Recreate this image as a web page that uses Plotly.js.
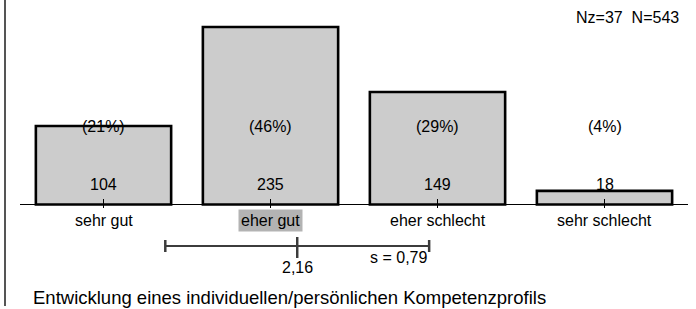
<!DOCTYPE html>
<html>
<head>
<meta charset="utf-8">
<script src="https://cdn.plot.ly/plotly-3.0.1.min.js"></script>
<style>
html,body{margin:0;padding:0;background:#fff;}
#chart{width:696px;height:309px;}
</style>
</head>
<body>
<div id="chart"></div>
<script>
// ---- data ----
const categories = ["sehr gut", "eher gut", "eher schlecht", "sehr schlecht"];
const counts = [104, 235, 149, 18];
const percents = ["(21%)", "(46%)", "(29%)", "(4%)"];
const meanValue = 2.16;
const sdValue = 0.79;
const meanLabel = "2,16";
const sdLabel = "s = 0,79";
const highlightIndex = 1;
const nzText = "Nz=37  N=543";
const titleText = "Entwicklung eines individuellen/persönlichen Kompetenzprofils";

// ---- layout helpers ----
const W = 696, H = 309;
const pxPerUnit = 167;            // horizontal pixels per category step
const firstCenterPx = 103.5;
const x0 = 1 - firstCenterPx / pxPerUnit;
const x1 = x0 + W / pxPerUnit;
const basePx = 204.5;
const yScale = 0.755;             // px per count
const yTop = basePx / yScale;
const yBottom = -(H - basePx) / yScale;
const P = px => 1 - px / H;        // pixel row -> paper y
const X = px => px / W;            // pixel col -> paper x

const xs = categories.map((c, i) => i + 1);
const font = "Liberation Sans, Arial, sans-serif";

const trace = {
  type: "bar",
  x: xs,
  y: counts,
  width: 0.81,
  marker: {color: "#cccccc", line: {color: "#000000", width: 2.6}},
  hoverinfo: "none"
};

const shapes = [];
// left vertical rule
shapes.push({type: "line", xref: "paper", yref: "paper", x0: X(5), x1: X(5), y0: P(0), y1: P(306),
  line: {color: "#555555", width: 2}});
// baseline
shapes.push({type: "line", xref: "x", yref: "y", x0: 0.5, x1: xs.length + 0.5, y0: 0, y1: 0,
  line: {color: "#000000", width: 1}});
// category ticks
xs.forEach(x => shapes.push({type: "line", xref: "x", yref: "paper", x0: x, x1: x, y0: P(199), y1: P(208),
  line: {color: "#000000", width: 1}}));
// mean +/- sd bar
const lo = meanValue - sdValue, hi = meanValue + sdValue;
const sdColor = "#3c3c3c";
shapes.push({type: "line", xref: "x", yref: "paper", x0: lo, x1: hi, y0: P(246), y1: P(246),
  line: {color: sdColor, width: 2}});
shapes.push({type: "line", xref: "x", yref: "paper", x0: lo, x1: lo, y0: P(240), y1: P(252),
  line: {color: sdColor, width: 2.5}});
shapes.push({type: "line", xref: "x", yref: "paper", x0: hi, x1: hi, y0: P(240), y1: P(252),
  line: {color: sdColor, width: 2.5}});
shapes.push({type: "line", xref: "x", yref: "paper", x0: meanValue, x1: meanValue, y0: P(237), y1: P(258),
  line: {color: sdColor, width: 2.5}});

const annotations = [];
const fs = 16;
xs.forEach((x, i) => {
  annotations.push({x: x, xref: "x", y: P(126), yref: "paper", text: percents[i], showarrow: false,
    font: {family: font, size: fs, color: "#000"}, xanchor: "center", yanchor: "middle"});
  annotations.push({x: x, xref: "x", y: P(184.5), yref: "paper", text: String(counts[i]), showarrow: false,
    font: {family: font, size: fs, color: "#000"}, xanchor: "center", yanchor: "middle"});
  const a = {x: x, xref: "x", y: P(220.5), yref: "paper", text: categories[i], showarrow: false,
    font: {family: font, size: fs, color: "#000"}, xanchor: "center", yanchor: "middle"};
  if (i === highlightIndex) { a.bgcolor = "#b3b3b3"; a.borderpad = 2; }
  annotations.push(a);
});
annotations.push({x: meanValue, xref: "x", y: P(267), yref: "paper", text: meanLabel, showarrow: false,
  font: {family: font, size: fs, color: "#000"}, xanchor: "center", yanchor: "middle"});
annotations.push({x: hi, xref: "x", y: P(257), yref: "paper", text: sdLabel, showarrow: false,
  font: {family: font, size: fs, color: "#000"}, xanchor: "right", yanchor: "middle"});
annotations.push({x: X(681), xref: "paper", y: P(18), yref: "paper", text: nzText, showarrow: false,
  font: {family: font, size: fs, color: "#000"}, xanchor: "right", yanchor: "middle"});
annotations.push({x: X(31), xref: "paper", y: P(297), yref: "paper", text: titleText, showarrow: false,
  font: {family: font, size: 18.5, color: "#000"}, xanchor: "left", yanchor: "middle"});

const layout = {
  width: W, height: H,
  margin: {l: 0, r: 0, t: 0, b: 0, pad: 0},
  paper_bgcolor: "#ffffff", plot_bgcolor: "#ffffff",
  showlegend: false,
  xaxis: {range: [x0, x1], visible: false, fixedrange: true},
  yaxis: {range: [yBottom, yTop], visible: false, fixedrange: true},
  shapes: shapes,
  annotations: annotations
};

Plotly.newPlot("chart", [trace], layout, {displayModeBar: false, staticPlot: true});
</script>
</body>
</html>
